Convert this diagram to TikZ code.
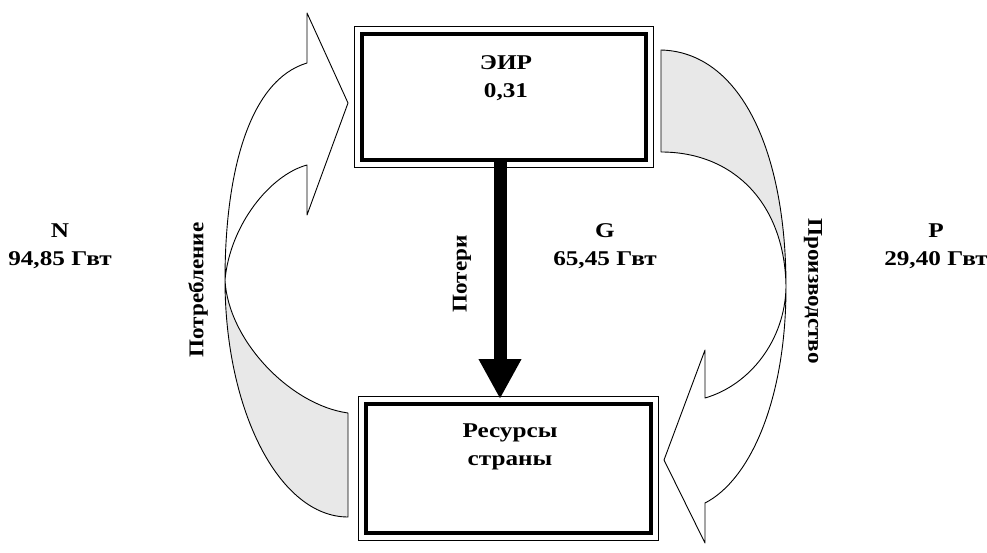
\documentclass[tikz,border=0pt]{standalone}
\usepackage{fontspec}
\setmainfont{Liberation Serif}[FakeStretch=1.1]
\newfontfamily\widefont{Liberation Serif}[FakeStretch=1.2]
\usetikzlibrary{arrows.meta}
\begin{document}
\begin{tikzpicture}[x=1pt,y=-1pt,
  lbl/.style={font=\widefont\fontsize{21}{28}\selectfont\bfseries, align=center, inner sep=0pt},
  vlbl/.style={font=\fontsize{21}{28}\selectfont\bfseries, inner sep=0pt},
  boxinner/.style={draw, line width=4pt, inner sep=0pt},
  boxouter/.style={draw, line width=1pt},
  flow/.style={draw=black, line width=0.9pt, line join=round},
  greyarea/.style={fill=black!9},
  lossarrow/.style={line width=13pt, -{Triangle[width=40pt,length=40pt]}}
]
\useasboundingbox (0,0) rectangle (987,553);

% boxes
\node[boxinner, minimum width=284pt, minimum height=126pt] (eir) at (503.5,97.5) {};
\draw[boxouter] ([shift={(-5.5,-5.5)}]eir.north west) rectangle ([shift={(5.5,5.5)}]eir.south east);
\node[boxinner, minimum width=285pt, minimum height=129pt] (res) at (508,468) {};
\draw[boxouter] ([shift={(-5.5,-5.5)}]res.north west) rectangle ([shift={(5.5,5.5)}]res.south east);

% box texts
\node[lbl] (eirt) at (506,78) {ЭИР\\0,31};
\node[lbl] (rest) at (510,447) {Ресурсы\\страны};

% loss arrow
\coordinate (losstip) at (500,399);
\draw[lossarrow] ([xshift=-3.5pt]eir.south) -- (losstip);

% left arrow (consumption)
\coordinate (LT1) at (348,413);
\coordinate (LT2) at (348,517);
\coordinate (LX) at (225,280);
\coordinate (LOb) at (307,63);
\coordinate (LHt) at (307,13);
\coordinate (Ltip) at (348,103);
\coordinate (LHb) at (307,215);
\coordinate (LIb) at (307,165);
\fill[greyarea] (LT2) .. controls (279.5,517) and (225,411) .. (LX)
  .. controls (228,340) and (290,405) .. (LT1) -- cycle;
\draw[flow] (LT2) .. controls (279.5,517) and (225,411) .. (LX)
  .. controls (225,170) and (250,80) .. (LOb) -- (LHt) -- (Ltip) -- (LHb) -- (LIb)
  .. controls (270,175) and (230,225) .. (LX)
  .. controls (228,340) and (290,405) .. (LT1) -- cycle;

% right arrow (production)
\coordinate (RT1) at (661,50);
\coordinate (RT2) at (661,152);
\coordinate (RX) at (786,287);
\coordinate (ROb) at (705,503);
\coordinate (RHb) at (705,543);
\coordinate (Rtip) at (664,460);
\coordinate (RHt) at (705,350);
\coordinate (RIb) at (705,398);
\fill[greyarea] (RT1) .. controls (740,52) and (786,150) .. (RX)
  .. controls (785,205) and (735,152) .. (RT2) -- cycle;
\draw[flow] (RT1) .. controls (740,52) and (786,150) .. (RX)
  .. controls (786,400) and (750,480) .. (ROb) -- (RHb) -- (Rtip) -- (RHt) -- (RIb)
  .. controls (750,385) and (785,340) .. (RX)
  .. controls (785,205) and (735,152) .. (RT2) -- cycle;

% labels
\node[lbl] (nlab) at (60,246) {N\\94,85 Гвт};
\node[lbl] (plab) at (936,246) {P\\29,40 Гвт};
\node[lbl] (glab) at (605,246) {G\\65,45 Гвт};
\node[vlbl, rotate=90] (cons) at (198,290) {Потребление};
\node[vlbl, rotate=90] (loss) at (462,274) {Потери};
\node[vlbl, rotate=-90] (prod) at (813,291) {Производство};
\end{tikzpicture}
\end{document}
